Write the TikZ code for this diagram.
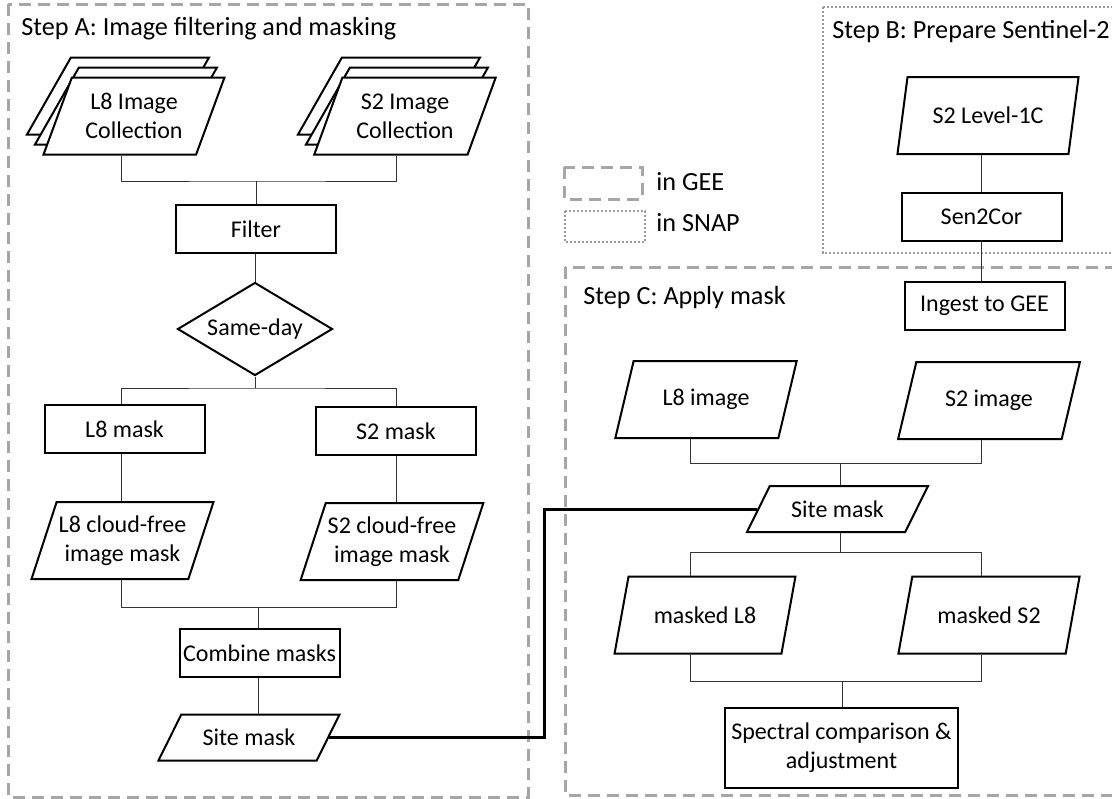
\documentclass[tikz,border=0pt]{standalone}
\usepackage{fontspec}
\setmainfont{Carlito}
\usetikzlibrary{shapes.geometric}

\begin{document}
\begin{tikzpicture}[x=0.5pt,y=-0.5pt,
  font=\fontsize{12}{14.5}\selectfont,
  box/.style={draw,line width=1pt,minimum width=80pt,minimum height=24pt,inner sep=1pt,align=center},
  para/.style={draw,line width=1pt,trapezium,trapezium left angle=65,trapezium right angle=115,
    trapezium stretches=true,minimum width=91pt,minimum height=38.5pt,inner sep=1pt,align=center},
  flat/.style={para,trapezium left angle=52,trapezium right angle=128,minimum height=23pt},
  gee/.style={draw=black!35,line width=1.5pt,dash pattern=on 6pt off 3.5pt},
  snap/.style={draw=black!40,line width=1.3pt,dash pattern=on 1.1pt off 0.9pt},
  link/.style={line width=0.5pt,black!80},
  title/.style={anchor=base west,inner sep=0pt,font=\fontsize{13.1}{15}\selectfont}]
\useasboundingbox (0,0) rectangle (1112,798);
\fill[white] (0,0) rectangle (1112,798);
% frames and legend
\draw[gee] (8,4) rectangle (528,797);
\draw[snap] (823,7) rectangle (1130,253);
\draw[gee] (565,267) rectangle (1130,795);
\node[title] (titA) at (21,35) {Step A: Image filtering and masking};
\node[title] (titB) at (832,38) {Step B: Prepare Sentinel-2};
\node[title] (titC) at (583,304) {Step C: Apply mask};
\draw[gee] (564,167) rectangle (642,199);
\node[title] (lgee) at (656,190) {in GEE};
\draw[snap] (565,211) rectangle (645,242);
\node[title] (lsnap) at (656,231) {in SNAP};
% step A
\foreach \k in {2,1}
  {\node[para,fill=white] (l8back\k) at ({134-8*\k},{116-10*\k}) {};
  \node[para,fill=white] (s2back\k) at ({405-8*\k},{116-10*\k}) {};}
\node[para,fill=white] (l8col) at (134,116) {L8 Image\\Collection};
\node[para,fill=white] (s2col) at (405,116) {S2 Image\\Collection};
\node[box] (filter) at (256,229) {Filter};
\node[draw,line width=1pt,diamond,aspect=1.67,minimum width=77.5pt,minimum height=46.5pt,inner sep=0pt] (sameday) at (255,329) {Same-day};
\node[box] (l8mask) at (124.5,429) {L8 mask};
\node[box] (s2mask) at (396,431) {S2 mask};
\node[para] (l8cf) at (122.5,540.5) {L8 cloud-free\\image mask};
\node[para] (s2cf) at (392,541.5) {S2 cloud-free\\image mask};
\node[box] (combine) at (259.5,653) {Combine masks};
\node[flat] (sitea) at (249,737.5) {Site mask};
% step B
\node[para,trapezium left angle=71,trapezium right angle=109] (s2l1c) at (988,115.5) {S2 Level-1C};
\node[box] (sen2cor) at (981.5,216.5) {Sen2Cor};
\node[box] (ingest) at (984.5,306) {Ingest to GEE};
% step C
\node[para] (l8img) at (706,399.5) {L8 image};
\node[para] (s2img) at (989,400.5) {S2 image};
\node[flat] (sitec) at (837.5,509) {Site mask};
\node[para] (mskl8) at (705,615) {masked L8};
\node[para] (msks2) at (989,615) {masked S2};
\node[box,minimum width=116.5pt,minimum height=40pt] (spectral) at (841.5,748) {Spectral comparison \&\\adjustment};
% connectors
\coordinate (cL) at (121,0);
\coordinate (cR) at (396,0);
\coordinate (ja) at (256,181);
\coordinate (jb) at (255,388);
\coordinate (jc) at (258,607);
\coordinate (cl) at (690,0);
\coordinate (cr) at (981,0);
\coordinate (jd) at (840,463);
\coordinate (je) at (840,552);
\coordinate (jf) at (842,681);
\coordinate (jt) at (544,509);
\draw[link] (cL |- l8col.south) |- (ja) -| (cR |- s2col.south);
\draw[link] (ja) -- (filter.north);
\draw[link] (sameday.north |- filter.south) -- (sameday.north);
\draw[link] (sameday.south) -- (jb);
\draw[link] (cL |- l8mask.north) |- (jb) -| (cR |- s2mask.north);
\draw[link] (cL |- l8mask.south) -- (cL |- l8cf.north);
\draw[link] (cR |- s2mask.south) -- (cR |- s2cf.north);
\draw[link] (cL |- l8cf.south) |- (jc) -| (cR |- s2cf.south);
\draw[link] (jc) -- (jc |- combine.north);
\draw[link] (jc |- combine.south) -- (jc |- sitea.north);
\draw[line width=1.5pt] (sitea.right side) -| (jt) -- (sitec.left side);
\draw[link] (sen2cor.north |- s2l1c.south) -- (sen2cor.north);
\draw[link] (sen2cor.south) -- (sen2cor.south |- ingest.north);
\draw[link] (cl |- l8img.south) |- (jd) -| (cr |- s2img.south);
\draw[link] (jd) -- (jd |- sitec.north);
\draw[link] (je |- sitec.south) -- (je);
\draw[link] (cl |- mskl8.north) |- (je) -| (cr |- msks2.north);
\draw[link] (cl |- mskl8.south) |- (jf) -| (cr |- msks2.south);
\draw[link] (jf) -- (jf |- spectral.north);
\end{tikzpicture}
\end{document}
